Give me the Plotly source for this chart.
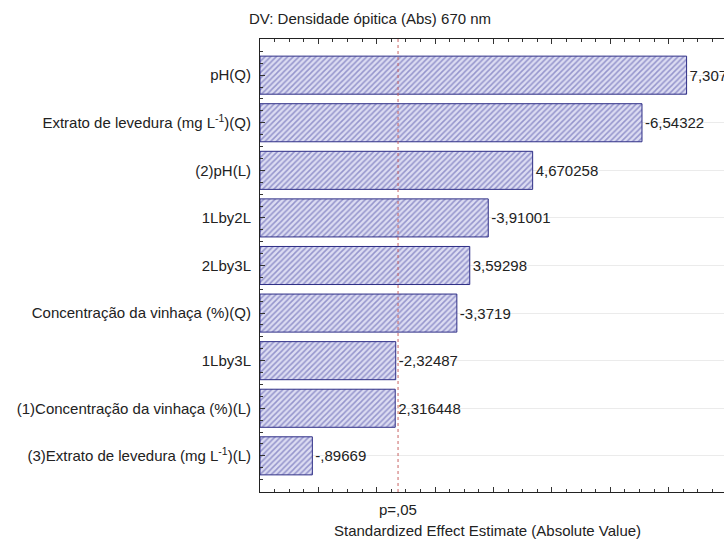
import plotly.graph_objects as go

# Pareto chart of standardized effects
effects = [
    "pH(Q)",
    "Extrato de levedura (mg L<sup>-1</sup>)(Q)",
    "(2)pH(L)",
    "1Lby2L",
    "2Lby3L",
    "Concentração da vinhaça (%)(Q)",
    "1Lby3L",
    "(1)Concentração da vinhaça (%)(L)",
    "(3)Extrato de levedura (mg L<sup>-1</sup>)(L)",
]
estimates = [7.307, -6.54322, 4.670258, -3.91001, 3.59298, -3.3719, -2.32487, 2.316448, -0.89669]
p_critical = 2.3646  # t critical value for p = .05
p_label = "p=,05"
title_text = "DV: Densidade ópitica (Abs) 670 nm"
x_title = "Standardized Effect Estimate (Absolute Value)"

FONT = "Liberation Sans, Arial, sans-serif"
TXT = "#222222"
FS = 15


def fmt(v):
    # comma decimal separator, leading zero dropped
    s = repr(v).replace(".", ",")
    s = s.replace("-0,", "-,")
    if s.startswith("0,"):
        s = s[1:]
    return s


positions = list(range(len(effects)))
magnitudes = [abs(v) for v in estimates]

fig = go.Figure()
fig.add_trace(go.Bar(
    y=positions,
    x=magnitudes,
    orientation="h",
    width=0.8,
    marker=dict(
        color="#d8d8f0",
        line=dict(color="#2e2e86", width=1),
        pattern=dict(shape="/", fgcolor="#4e4ea6", bgcolor="#dcdcf2", size=4, solidity=0.38),
    ),
    text=[fmt(v) for v in estimates],
    textposition="outside",
    textfont=dict(family=FONT, size=FS, color=TXT),
    constraintext="none",
    cliponaxis=False,
    hoverinfo="skip",
))

# significance threshold
fig.add_shape(type="line", xref="x", yref="paper", x0=p_critical, x1=p_critical, y0=0, y1=1,
              line=dict(color="#c86464", width=1, dash="dot"))

fig.add_annotation(text=p_label, xref="x", yref="paper", x=p_critical, y=0, yanchor="middle",
                   yshift=-17, showarrow=False, font=dict(family=FONT, size=FS, color=TXT))
fig.add_annotation(text=x_title, xref="paper", yref="paper", x=0.49, y=0, yanchor="middle",
                   yshift=-38, showarrow=False, font=dict(family=FONT, size=FS, color=TXT))
fig.add_annotation(text=title_text, xref="paper", yref="paper", x=-0.029, y=1, xanchor="left",
                   yanchor="middle", yshift=21, showarrow=False,
                   font=dict(family=FONT, size=FS, color=TXT))

yrange = [len(effects) - 0.24, -0.76]

fig.update_layout(
    width=724, height=541,
    margin=dict(l=260, r=0, t=39, b=49),
    paper_bgcolor="white", plot_bgcolor="white",
    showlegend=False,
    bargap=0.2,
    xaxis=dict(
        range=[0, 7.948],
        showline=True, linecolor="#222222", linewidth=1, mirror="ticks",
        ticks="inside", ticklen=5, tickcolor="#333333", dtick=1, tick0=0,
        showticklabels=False, showgrid=False, zeroline=False,
        minor=dict(ticks="inside", ticklen=3, dtick=0.25, tick0=0, tickcolor="#333333", showgrid=False),
    ),
    yaxis=dict(
        range=yrange,
        tickmode="array", tickvals=positions, ticktext=effects,
        showline=True, linecolor="#222222", linewidth=1,
        ticks="inside", ticklen=5, tickcolor="#333333",
        tickfont=dict(family=FONT, size=FS, color=TXT),
        ticklabelstandoff=5,
        showgrid=True, gridcolor="#ebebeb", gridwidth=1, zeroline=False,
        minor=dict(ticks="inside", ticklen=3, dtick=0.25, tick0=0, tickcolor="#333333", showgrid=False),
    ),
    yaxis2=dict(
        overlaying="y", side="right", anchor="x", range=yrange,
        tickmode="array", tickvals=positions, showticklabels=False,
        ticks="inside", ticklen=5, tickcolor="#333333",
        showline=False, showgrid=False, zeroline=False,
        minor=dict(ticks="inside", ticklen=3, dtick=0.25, tick0=0, tickcolor="#333333", showgrid=False),
    ),
)

fig.write_html("out.html")
